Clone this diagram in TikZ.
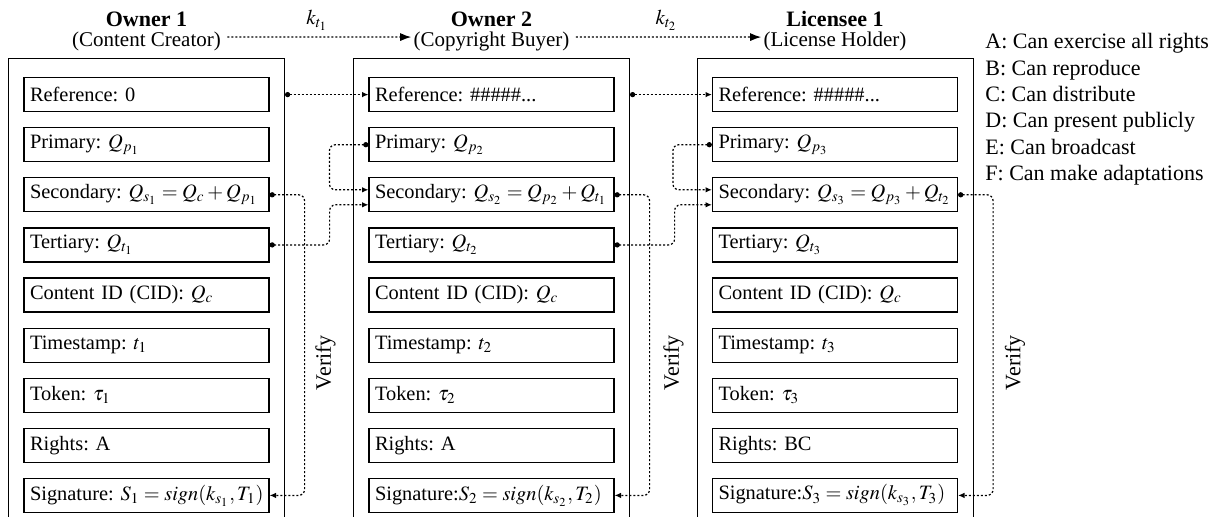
\documentclass[tikz,border=0pt]{standalone}
\usepackage{mathptmx}
\usepackage{fontspec}
\setmainfont{Liberation Serif}
\usetikzlibrary{positioning}
\usetikzlibrary{arrows.meta}
\frenchspacing

\begin{document}
\begin{tikzpicture}[font=\fontsize{10.5}{12.5}\selectfont,node distance=7.45pt,
cornice/.style={draw,line width=0.5pt,minimum width=138pt,minimum height=290pt,anchor=north},
campo/.style={draw,line width=0.6pt,minimum width=122pt,minimum height=17pt,text width=116.5pt,inner xsep=3pt,inner ysep=0pt,align=left,font=\fontsize{10.2}{12}\selectfont},
titolo/.style={font=\fontsize{11}{13}\selectfont\bfseries,inner sep=0.5pt},
ruolo/.style={inner sep=1pt},
legame/.style={line width=0.6pt,dash pattern=on 1pt off 1pt,rounded corners=3pt,{Circle[length=2.6pt]}-{Latex[length=3.2pt,width=2.8pt]}},
passaggio/.style={line width=0.6pt,dash pattern=on 1pt off 1pt,shorten <=2pt,-{Latex[length=5.5pt,width=4pt]}},
verifica/.style={rotate=90,inner sep=1pt,font=\fontsize{11}{13}\selectfont}
]
\useasboundingbox (0,0) rectangle (608pt,-258pt);
%-- Owner 1
\node[cornice] (box1) at (73.25pt,-29pt) {};
\node[ruolo,above=2.5pt of box1] (r1) {(Content Creator)};
\node[titolo,above=0.5pt of r1] (t1) {Owner 1};
\node[campo,anchor=north] (ref1) at ([yshift=-9.5pt]box1.north) {Reference: 0};
\node[campo,below=of ref1] (pri1) {Primary: $Q_{p_1}$};
\node[campo,below=of pri1] (sec1) {\mbox{Secondary: $Q_{s_1}=Q_c+Q_{p_1}$}};
\node[campo,below=of sec1] (ter1) {Tertiary: $Q_{t_1}$};
\node[campo,below=of ter1] (cid1) {Content ID (CID): $Q_c$};
\node[campo,below=of cid1] (tim1) {Timestamp: $t_1$};
\node[campo,below=of tim1] (tok1) {Token: $\tau_1$};
\node[campo,below=of tok1] (rig1) {Rights: A};
\node[campo,below=of rig1] (sig1) {\mbox{Signature: $S_1=sign(k_{s_1},T_1)$}};
%-- Owner 2
\node[cornice] (box2) at (245.75pt,-29pt) {};
\node[ruolo,above=2.5pt of box2] (r2) {(Copyright Buyer)};
\node[titolo,above=0.5pt of r2] (t2) {Owner 2};
\node[campo,anchor=north] (ref2) at ([yshift=-9.5pt]box2.north) {Reference: \#\#\#\#\#...};
\node[campo,below=of ref2] (pri2) {Primary: $Q_{p_2}$};
\node[campo,below=of pri2] (sec2) {\mbox{Secondary: $Q_{s_2}=Q_{p_2}+Q_{t_1}$}};
\node[campo,below=of sec2] (ter2) {Tertiary: $Q_{t_2}$};
\node[campo,below=of ter2] (cid2) {Content ID (CID): $Q_c$};
\node[campo,below=of cid2] (tim2) {Timestamp: $t_2$};
\node[campo,below=of tim2] (tok2) {Token: $\tau_2$};
\node[campo,below=of tok2] (rig2) {Rights: A};
\node[campo,below=of rig2] (sig2) {\mbox{Signature:$S_2=sign(k_{s_2},T_2)$}};
%-- Licensee 1
\node[cornice] (box3) at (417.5pt,-29pt) {};
\node[ruolo,above=2.5pt of box3] (r3) {(License Holder)};
\node[titolo,above=0.5pt of r3] (t3) {Licensee 1};
\node[campo,anchor=north] (ref3) at ([yshift=-9.5pt]box3.north) {Reference: \#\#\#\#\#...};
\node[campo,below=of ref3] (pri3) {Primary: $Q_{p_3}$};
\node[campo,below=of pri3] (sec3) {\mbox{Secondary: $Q_{s_3}=Q_{p_3}+Q_{t_2}$}};
\node[campo,below=of sec3] (ter3) {Tertiary: $Q_{t_3}$};
\node[campo,below=of ter3] (cid3) {Content ID (CID): $Q_c$};
\node[campo,below=of cid3] (tim3) {Timestamp: $t_3$};
\node[campo,below=of tim3] (tok3) {Token: $\tau_3$};
\node[campo,below=of tok3] (rig3) {Rights: BC};
\node[campo,below=of rig3] (sig3) {\mbox{Signature:$S_3=sign(k_{s_3},T_3)$}};
%-- legenda
\node[anchor=north west,align=left,inner sep=0pt,font=\fontsize{11}{13.2}\selectfont] (leg) at (492.5pt,-16.5pt)
{A: Can exercise all rights\\B: Can reproduce\\C: Can distribute\\D: Can present publicly\\E: Can broadcast\\F: Can make adaptations};
%-- passaggi
\draw[passaggio] ([yshift=2pt]r1.east) -- node[above=-0.5pt]{$k_{t_1}$} ([yshift=2pt]r2.west);
\draw[passaggio] ([yshift=2pt]r2.east) -- node[above=-0.5pt]{$k_{t_2}$} ([yshift=2pt]r3.west);
%-- riferimenti
\draw[legame] (ref1.east -| box1.east) -- (ref2.west);
\draw[legame] (ref2.east -| box2.east) -- (ref3.west);
%-- primary/tertiary -> secondary
\draw[legame] (pri2.west) -- ++(-19.5pt,0) |- ([yshift=2.5pt]sec2.west);
\draw[legame] (ter1.east) -- ++(30pt,0) |- ([yshift=-5pt]sec2.west);
\draw[legame] (pri3.west) -- ++(-19.5pt,0) |- ([yshift=2.5pt]sec3.west);
\draw[legame] (ter2.east) -- ++(30pt,0) |- ([yshift=-5pt]sec3.west);
%-- verify
\draw[legame] (sec1.east) -- ++(17.5pt,0) coordinate (c1) |- (sig1.east);
\node[verifica] (v1) at ([xshift=10.5pt]c1 |- tim1.south) {Verify};
\draw[legame] (sec2.east) -- ++(17.5pt,0) coordinate (c2) |- (sig2.east);
\node[verifica] (v2) at ([xshift=12pt]c2 |- tim2.south) {Verify};
\draw[legame] (sec3.east) -- ++(17.5pt,0) coordinate (c3) |- (sig3.east);
\node[verifica] (v3) at ([xshift=11pt]c3 |- tim3.south) {Verify};
\end{tikzpicture}
\end{document}
